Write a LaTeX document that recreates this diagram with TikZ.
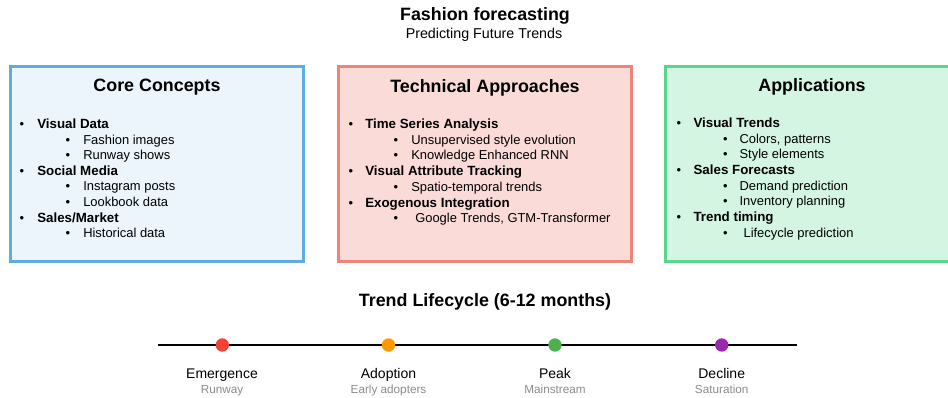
\documentclass[tikz,border=0pt]{standalone}
\usepackage{fontspec}
\setmainfont{Liberation Sans}
\definecolor{bluebd}{HTML}{5DADE2}
\definecolor{bluefill}{HTML}{EBF5FB}
\definecolor{redbd}{HTML}{EE8378}
\definecolor{redfill}{HTML}{FADBD8}
\definecolor{greenbd}{HTML}{58D68D}
\definecolor{greenfill}{HTML}{D5F5E3}
\definecolor{dotred}{HTML}{F44336}
\definecolor{dotorange}{HTML}{FF9800}
\definecolor{dotgreen}{HTML}{4CAF50}
\definecolor{dotpurple}{HTML}{9C27B0}
\definecolor{subgray}{HTML}{8C8C8C}
\begin{document}
\begin{tikzpicture}[x=0.75pt,y=-0.75pt,
  panel/.style={draw, line width=2.25pt, minimum width=219.75pt, minimum height=146.25pt, inner sep=0pt, outer sep=0pt, anchor=north west},
  ttl/.style={font=\bfseries\fontsize{13.4}{16}\selectfont, inner sep=0pt, anchor=mid, yshift=-2pt},
  stl/.style={font=\fontsize{10.7}{12}\selectfont, inner sep=0pt, anchor=mid, yshift=-1.3pt},
  head/.style={font=\bfseries\fontsize{10}{12}\selectfont, inner sep=0pt, anchor=mid west, yshift=-1.1pt},
  item/.style={font=\fontsize{9.7}{12}\selectfont, inner sep=0pt, anchor=mid west, yshift=-1.1pt},
  bul/.style={font=\fontsize{9.7}{12}\selectfont, inner sep=0pt, anchor=mid, yshift=-1.1pt},
  dot/.style={circle, minimum size=10pt, inner sep=0pt},
  phase/.style={font=\fontsize{10.5}{12}\selectfont, inner sep=0pt, anchor=mid, yshift=-1.3pt},
  phsub/.style={font=\fontsize{8.8}{10}\selectfont, text=subgray, inner sep=0pt, anchor=mid, yshift=-1pt}
]
\useasboundingbox (0,0) rectangle (948,398);
\clip (0,0) rectangle (948,398);
\fill[white] (0,0) rectangle (948,398);

% title
\node[ttl] (title) at (485,14) {Fashion forecasting};
\node[stl] (subtitle) at (484,33) {Predicting Future Trends};

% panels
\node[panel, draw=bluebd, fill=bluefill] (core) at (10.7,67) {};
\node[panel, draw=redbd, fill=redfill] (tech) at (338.7,67) {};
\node[panel, draw=greenbd, fill=greenfill] (apps) at (665.7,67) {};

\node[ttl] (coret) at (157,85) {Core Concepts};
\node[ttl] (techt) at (485,86) {Technical Approaches};
\node[ttl] (appst) at (812,85) {Applications};

% Core Concepts
\node[bul] (c1b) at (22,123.5) {•};
\node[head] (c1) at (37,123.5) {Visual Data};
\node[bul] (c2b) at (68,139.3) {•};
\node[item] (c2) at (83,139.3) {Fashion images};
\node[bul] (c3b) at (68,154.5) {•};
\node[item] (c3) at (83,154.5) {Runway shows};
\node[bul] (c4b) at (22,170.2) {•};
\node[head] (c4) at (37,170.2) {Social Media};
\node[bul] (c5b) at (68,186) {•};
\node[item] (c5) at (83,186) {Instagram posts};
\node[bul] (c6b) at (68,201.7) {•};
\node[item] (c6) at (83,201.7) {Lookbook data};
\node[bul] (c7b) at (22,217.4) {•};
\node[head] (c7) at (37,217.4) {Sales/Market};
\node[bul] (c8b) at (68,233) {•};
\node[item] (c8) at (83,233) {Historical data};

% Technical Approaches
\node[bul] (t1b) at (351,123.5) {•};
\node[head] (t1) at (365,123.5) {Time Series Analysis};
\node[bul] (t2b) at (396,139.3) {•};
\node[item] (t2) at (411,139.3) {Unsupervised style evolution};
\node[bul] (t3b) at (396,154.8) {•};
\node[item] (t3) at (411,154.8) {Knowledge Enhanced RNN};
\node[bul] (t4b) at (351,170.7) {•};
\node[head] (t4) at (365,170.7) {Visual Attribute Tracking};
\node[bul] (t5b) at (396,186.7) {•};
\node[item] (t5) at (411,186.7) {Spatio-temporal trends};
\node[bul] (t6b) at (351,202.5) {•};
\node[head] (t6) at (365,202.5) {Exogenous Integration};
\node[bul] (t7b) at (396,218) {•};
\node[item] (t7) at (415,218) {Google Trends, GTM-Transformer};

% Applications
\node[bul] (a1b) at (679,122.5) {•};
\node[head] (a1) at (693.3,122.5) {Visual Trends};
\node[bul] (a2b) at (725.5,138.3) {•};
\node[item] (a2) at (739.3,138.3) {Colors, patterns};
\node[bul] (a3b) at (725.5,153.8) {•};
\node[item] (a3) at (739.3,153.8) {Style elements};
\node[bul] (a4b) at (679,169.4) {•};
\node[head] (a4) at (693.3,169.4) {Sales Forecasts};
\node[bul] (a5b) at (725.5,185.7) {•};
\node[item] (a5) at (739.3,185.7) {Demand prediction};
\node[bul] (a6b) at (725.5,201) {•};
\node[item] (a6) at (739.3,201) {Inventory planning};
\node[bul] (a7b) at (679,216.8) {•};
\node[head] (a7) at (693.3,216.8) {Trend timing};
\node[bul] (a8b) at (725.5,232.7) {•};
\node[item] (a8) at (743.3,232.7) {Lifecycle prediction};

% Timeline
\node[ttl] (lifet) at (485,300) {Trend Lifecycle (6-12 months)};
\coordinate (tl) at (157.5,345);
\coordinate (tr) at (796.5,345);
\draw[line width=1.9pt] (tl) -- (tr);
\node[dot, fill=dotred] (d1) at (222.3,345) {};
\node[dot, fill=dotorange] (d2) at (388.5,345) {};
\node[dot, fill=dotgreen] (d3) at (555,345) {};
\node[dot, fill=dotpurple] (d4) at (721.7,345) {};

\node[phase] (p1) at (222,373.3) {Emergence};
\node[phsub] (p1s) at (222,388.3) {Runway};
\node[phase] (p2) at (388.5,373.3) {Adoption};
\node[phsub] (p2s) at (388.5,388.3) {Early adopters};
\node[phase] (p3) at (555,373.3) {Peak};
\node[phsub] (p3s) at (555,388.3) {Mainstream};
\node[phase] (p4) at (721.7,373.3) {Decline};
\node[phsub] (p4s) at (721.7,388.3) {Saturation};
\end{tikzpicture}
\end{document}
